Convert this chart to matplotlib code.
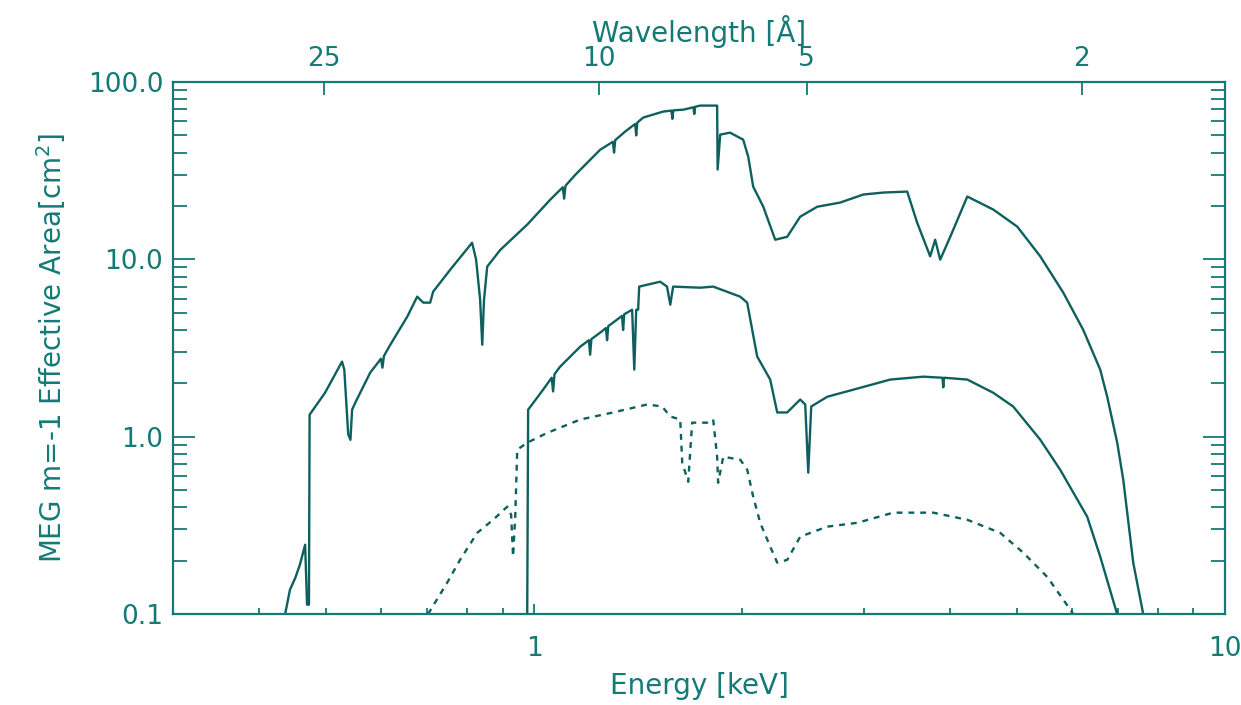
import numpy as np
import matplotlib.pyplot as plt
from matplotlib.ticker import FixedLocator, NullFormatter, LogLocator

# upper solid curve (energy keV, area cm^2)
top_e = [0.436, 0.443, 0.451, 0.458, 0.466, 0.469, 0.472, 0.473, 0.498, 0.527,
         0.531, 0.538, 0.542, 0.545, 0.551, 0.579, 0.600, 0.603, 0.606, 0.619,
         0.655, 0.677, 0.691, 0.707, 0.714, 0.756, 0.813, 0.824, 0.835, 0.841,
         0.846, 0.855, 0.893, 0.977, 1.055, 1.100, 1.105, 1.110, 1.147, 1.246,
         1.300, 1.305, 1.310, 1.354, 1.400, 1.405, 1.410, 1.438, 1.537, 1.580,
         1.585, 1.590, 1.644, 1.700, 1.705, 1.710, 1.739, 1.840,
         1.843, 1.859, 1.921, 2.007, 2.041, 2.075, 2.146, 2.233, 2.324, 2.427,
         2.569, 2.773, 2.995, 3.201, 3.467, 3.584, 3.743, 3.806, 3.870, 4.002,
         4.236, 4.618, 5.003, 5.402, 5.833, 6.233, 6.597, 6.753, 6.982, 7.124,
         7.365, 7.614]
top_a = [0.1, 0.137, 0.160, 0.190, 0.246, 0.113, 0.113, 1.33, 1.77, 2.65,
         2.39, 1.03, 0.96, 1.42, 1.56, 2.30, 2.75, 2.45, 2.85, 3.30,
         4.75, 6.16, 5.70, 5.70, 6.57, 8.75, 12.4, 9.96, 5.93, 3.30,
         5.93, 9.10, 11.3, 15.7, 21.7, 25.5, 22.0, 26.0, 30.0, 41.5,
         46.0, 40.0, 47.0, 52.5, 58.0, 50.0, 59.0, 63.0, 68.1, 69.0,
         62.0, 69.2, 69.8, 72.0, 66.0, 72.5, 73.6, 73.6,
         32.1, 50.5, 51.8, 47.3, 37.9, 25.7, 19.8, 12.9, 13.4, 17.4,
         19.8, 20.9, 23.2, 23.8, 24.1, 16.1, 10.4, 12.9, 9.96, 13.4,
         22.6, 19.1, 15.3, 10.4, 6.49, 4.01, 2.39, 1.68, 0.925, 0.572,
         0.195, 0.1]

# middle solid curve
mid_e = [0.977, 0.980, 0.993, 1.030, 1.060, 1.065, 1.070, 1.090, 1.166, 1.200,
         1.205, 1.210, 1.246, 1.270, 1.275, 1.280, 1.301, 1.340, 1.345, 1.350,
         1.386, 1.396, 1.405, 1.414, 1.419, 1.522, 1.557, 1.574, 1.589, 1.739,
         1.816, 1.987, 2.034, 2.068, 2.103, 2.196, 2.248, 2.324, 2.427, 2.468,
         2.493, 2.518, 2.656, 2.895, 3.277, 3.658, 3.900, 3.910, 3.920, 4.236,
         4.618, 4.936, 5.402, 5.772, 6.317, 6.597, 6.98]
mid_a = [0.1, 1.42, 1.52, 1.84, 2.15, 1.80, 2.25, 2.48, 3.22, 3.50,
         2.90, 3.55, 3.86, 4.10, 3.50, 4.20, 4.40, 4.80, 4.00, 4.90,
         5.20, 2.39, 5.20, 5.20, 7.02, 7.48, 7.02, 5.55, 7.02, 6.92,
         7.02, 6.16, 5.70, 4.01, 2.83, 2.10, 1.37, 1.37, 1.62, 1.52,
         0.627, 1.48, 1.68, 1.84, 2.10, 2.18, 2.15, 1.90, 2.15, 2.10,
         1.77, 1.48, 0.962, 0.652, 0.354, 0.211, 0.1]

# dashed curve
dash_e = [0.702, 0.748, 0.781, 0.827, 0.872, 0.914, 0.926, 0.932, 0.939, 0.945,
          0.977, 1.044, 1.166, 1.301, 1.458, 1.532, 1.574, 1.627, 1.638, 1.671,
          1.693, 1.780, 1.816, 1.840, 1.846, 1.878, 1.987, 2.034, 2.075, 2.124,
          2.196, 2.248, 2.324, 2.427, 2.656, 2.936, 3.310, 3.782, 4.236, 4.727,
          5.104, 5.529, 5.970, 6.03]
dash_a = [0.1, 0.150, 0.202, 0.287, 0.340, 0.403, 0.363, 0.211, 0.363, 0.845,
          0.925, 1.05, 1.25, 1.37, 1.52, 1.48, 1.30, 1.25, 0.714, 0.557,
          1.20, 1.20, 1.25, 0.771, 0.550, 0.771, 0.742, 0.652, 0.459, 0.327,
          0.240, 0.195, 0.202, 0.273, 0.311, 0.327, 0.373, 0.373, 0.340, 0.287,
          0.222, 0.162, 0.106, 0.1]

y_ticks = [0.1, 1.0, 10.0, 100.0]
y_labels = ['0.1', '1.0', '10.0', '100.0']
wave_ticks = [25, 10, 5, 2]

col = '#137a76'
line_col = '#0d605d'

fig = plt.figure(figsize=(12.41, 7.05), dpi=100)
ax = fig.add_axes([0.1394, 0.129, 0.8477, 0.7547])

ax.plot(top_e, top_a, color=line_col, lw=1.7)
ax.plot(mid_e, mid_a, color=line_col, lw=1.7)
ax.plot(dash_e, dash_a, color=line_col, lw=1.7, ls=(0, (2.5, 2.5)))

ax.set_xscale('log')
ax.set_yscale('log')
ax.set_xlim(0.3, 10)
ax.set_ylim(0.1, 100)

ax.set_yticks(y_ticks)
ax.set_yticklabels(y_labels)
ax.yaxis.set_minor_locator(LogLocator(base=10, subs=np.arange(2, 10)))
ax.yaxis.set_minor_formatter(NullFormatter())
ax.set_xticks([1, 10])
ax.set_xticklabels(['1', '10'])
ax.xaxis.set_minor_locator(LogLocator(base=10, subs=np.arange(2, 10)))
ax.xaxis.set_minor_formatter(NullFormatter())

ax.tick_params(axis='y', which='major', direction='in', length=16, width=1.3,
               right=True, colors=col, labelsize=19, pad=7)
ax.tick_params(axis='y', which='minor', direction='in', length=10, width=1.3,
               right=True, colors=col)
ax.tick_params(axis='x', which='major', direction='in', length=7, width=1.3,
               top=False, colors=col, labelsize=19, pad=16)
ax.tick_params(axis='x', which='minor', direction='in', length=4, width=1.3,
               top=False, colors=col)
for s in ax.spines.values():
    s.set_color(col)
    s.set_linewidth(1.6)

ax.set_xlabel('Energy [keV]', fontsize=20, color=col, labelpad=7)
ax.set_ylabel('MEG m=-1 Effective Area[cm$^2$]', fontsize=20, color=col, labelpad=14)

ax2 = ax.twiny()
ax2.set_xscale('log')
ax2.set_xlim(ax.get_xlim())
ax2.xaxis.set_major_locator(FixedLocator([12.398 / w for w in wave_ticks]))
ax2.set_xticklabels([str(w) for w in wave_ticks])
ax2.xaxis.set_minor_locator(FixedLocator([]))
ax2.tick_params(axis='x', which='major', direction='in', length=9, width=1.3,
                colors=col, labelsize=19, pad=7)
for s in ax2.spines.values():
    s.set_visible(False)
ax2.set_xlabel('Wavelength [Å]', fontsize=20, color=col, labelpad=3)

fig.savefig('out.png', dpi=100)
